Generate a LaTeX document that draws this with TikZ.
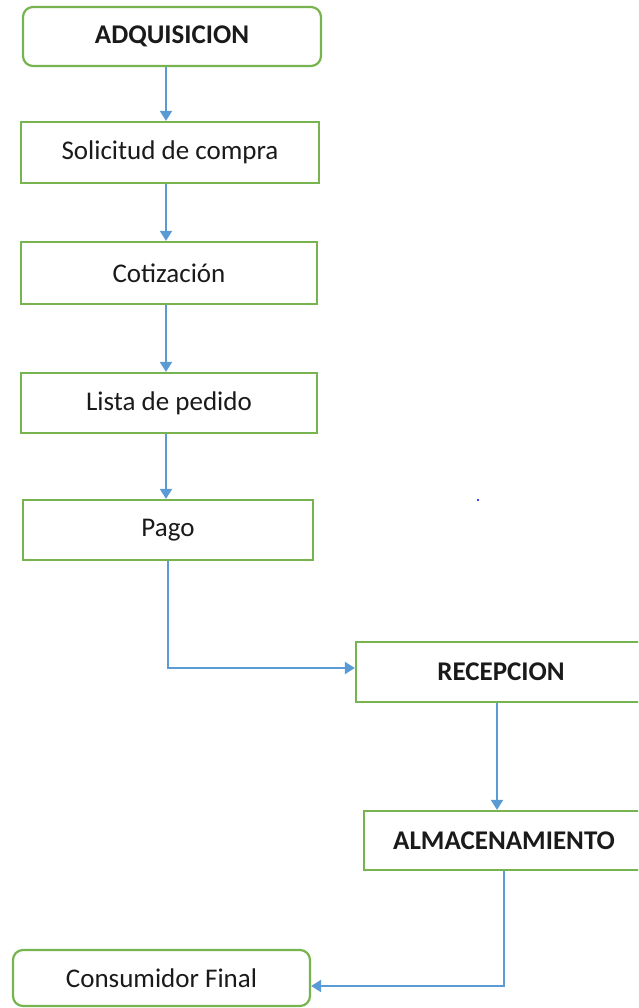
\documentclass[tikz,border=0pt]{standalone}
\usepackage{fontspec}
\setmainfont{Carlito}
\usetikzlibrary{arrows.meta}
\definecolor{boxgreen}{HTML}{77B450}
\definecolor{flowblue}{HTML}{5B9BD5}
\definecolor{txtgray}{HTML}{1A1A1A}

\begin{document}
\begin{tikzpicture}[x=1pt,y=-1pt,
    paso/.style={draw=boxgreen,line width=2.2pt,minimum height=60pt,inner sep=0pt,
      text=txtgray,font=\fontsize{27}{31}\selectfont},
    flecha/.style={draw=flowblue,line width=2pt,-{Triangle[width=12pt,length=10pt]}}]
        \useasboundingbox (0,0) rectangle (638,1008);
        \clip (0,0) rectangle (638,1008);

        % Left column
        \node[paso,rounded corners=10pt,minimum width=298pt,minimum height=59pt] (adq) at (172,36.5) {\bfseries ADQUISICION};
        \node[paso,minimum width=298pt,minimum height=61pt] (sol) at (170,152.5) {Solicitud de compra};
        \node[paso,minimum width=296pt,minimum height=62pt] (cot) at (169,273) {Cotización};
        \node[paso,minimum width=296pt] (lista) at (169,403) {Lista de pedido};
        \node[paso,minimum width=290pt] (pago) at (168,530) {Pago};
        \coordinate (eje) at (166,0);

        % Right column (cut at the page edge)
        \node[paso,minimum width=290pt] (recep) at (501,672) {\bfseries RECEPCION};
        \node[paso,minimum width=280pt,minimum height=59pt] (alma) at (504,840.5) {\bfseries ALMACENAMIENTO};

        % Last box
        \node[paso,rounded corners=10pt,minimum width=297pt,minimum height=56pt] (cons) at (161.5,978) {Consumidor Final};

        % Flow
        \draw[flecha] (adq.south -| eje) -- (sol.north -| eje);
        \draw[flecha] (sol.south -| eje) -- (cot.north -| eje);
        \draw[flecha] (cot.south -| eje) -- (lista.north -| eje);
        \draw[flecha] (lista.south -| eje) -- (pago.north -| eje);
        \draw[flecha] (pago.south) |- ([yshift=4pt]recep.west);
        \draw[flecha] ([xshift=-4pt]recep.south) -- ([xshift=-4pt]recep.south |- alma.north);
        \draw[flecha] (alma.south) |- ([yshift=-8pt]cons.east);

        % stray dot
        \fill[blue] (478,500) circle (1.2pt);
\end{tikzpicture}
\end{document}
